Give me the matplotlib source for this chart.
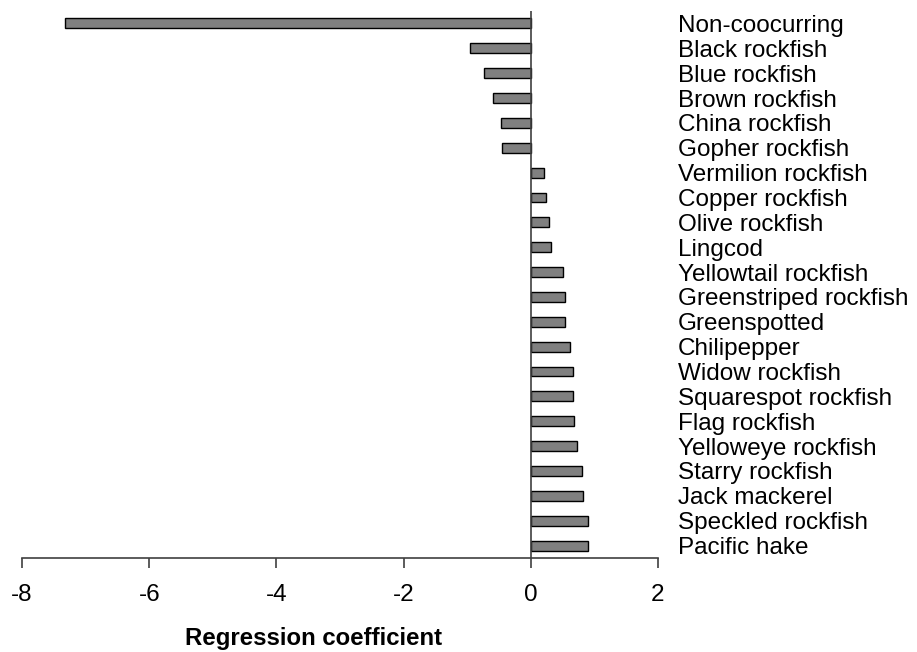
#!/usr/bin/python
""" Regression coefficients by species, horizontal bar chart """
import matplotlib
matplotlib.use('Agg')
import matplotlib.pyplot as plt
import numpy as np

SPECIES = ['Non-coocurring', 'Black rockfish', 'Blue rockfish', 'Brown rockfish',
           'China rockfish', 'Gopher rockfish', 'Vermilion rockfish',
           'Copper rockfish', 'Olive rockfish', 'Lingcod', 'Yellowtail rockfish',
           'Greenstriped rockfish', 'Greenspotted', 'Chilipepper',
           'Widow rockfish', 'Squarespot rockfish', 'Flag rockfish',
           'Yelloweye rockfish', 'Starry rockfish', 'Jack mackerel',
           'Speckled rockfish', 'Pacific hake']
COEFS = [-7.32, -0.95, -0.74, -0.60, -0.47, -0.45, 0.21, 0.235, 0.29, 0.31,
         0.51, 0.53, 0.545, 0.62, 0.665, 0.665, 0.685, 0.72, 0.80, 0.82,
         0.895, 0.895]
XTICKS = [-8, -6, -4, -2, 0, 2]

plt.rcParams['font.family'] = ['Liberation Sans', 'DejaVu Sans']

W, H = 917, 652
fig = plt.figure(figsize=(W / 100., H / 100.), dpi=100)
ax = fig.add_axes([22. / W, (H - 558.) / H, 636. / W, 547. / H])

ypos = np.arange(len(SPECIES))
ax.barh(ypos, COEFS, height=0.4, color='#808080', edgecolor='black',
        linewidth=1.0, zorder=2)
ax.axvline(0, color='#404040', linewidth=1.2, zorder=3)

ax.set_xlim(-8, 2)
ax.set_ylim(len(SPECIES) - 0.5, -0.5)
ax.set_xticks(XTICKS)
ax.set_xticklabels([str(t) for t in XTICKS], fontsize=17.5)
ax.tick_params(axis='x', direction='out', length=7, width=1.2,
               color='#404040', pad=12)

ax.yaxis.tick_right()
ax.set_yticks(ypos)
ax.set_yticklabels(SPECIES, fontsize=17.5)
ax.tick_params(axis='y', length=0, pad=14.5)

for side in ['left', 'right', 'top']:
    ax.spines[side].set_visible(False)
ax.spines['bottom'].set_color('#404040')
ax.spines['bottom'].set_linewidth(1.2)

fig.text(314. / W, (H - 639.) / H, 'Regression coefficient', fontsize=17.3,
         fontweight='bold', ha='center', va='center')

fig.savefig('out.png', dpi=100)
